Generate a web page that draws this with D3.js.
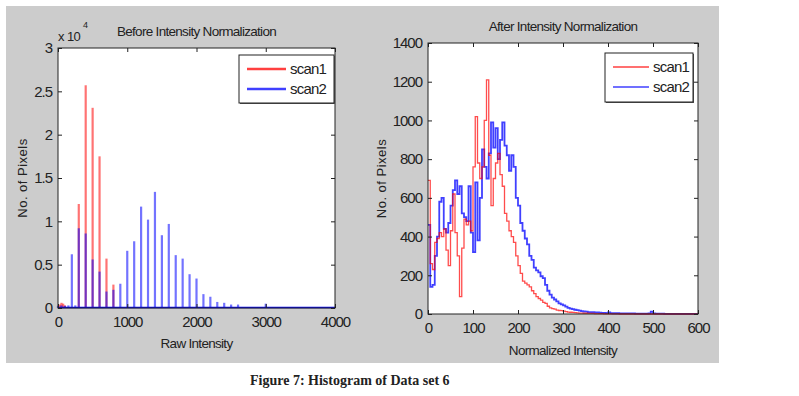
<!DOCTYPE html>
<html><head><meta charset="utf-8">
<script src="https://cdn.jsdelivr.net/npm/d3@7"></script>
<style>
body{margin:0;background:#fff}
svg text{font-family:"Liberation Sans",Arial,sans-serif;fill:#222}
</style>
</head><body><svg id="c" width="799" height="396"></svg>
<script>
// ---- Left panel: raw intensity histogram (counts) ----
const rawBins1 = [25, 50, 75, 100, 300, 400, 500, 600, 700, 800];
const rawCounts1 = [400, 600, 500, 300, 12000, 25700, 23100, 17500, 5700, 2700];
const rawBins2 = [0, 50, 100, 150, 200, 250, 300, 400, 500, 600, 700, 800, 900, 1000, 1100, 1200, 1300, 1400, 1500, 1600, 1700, 1800, 1900, 2000, 2100, 2200, 2300, 2400, 2500, 2600, 3000];
const rawCounts2 = [250, 300, 250, 300, 6200, 300, 9200, 8600, 5600, 4200, 1900, 2100, 2800, 6600, 7700, 11700, 10200, 13400, 8400, 9700, 6100, 5700, 3900, 3400, 1600, 1300, 700, 600, 400, 400, 500];
const rawXTicks = [0, 1000, 2000, 3000, 4000];
const rawYTicks = [0, 5000, 10000, 15000, 20000, 25000, 30000];

// ---- Right panel: normalized intensity histogram ----
const normBins = [0,5,10,15,20,25,30,35,40,45,50,55,60,65,70,75,80,85,90,95,100,105,110,115,120,125,130,135,140,145,150,155,160,165,170,175,180,185,190,195,200,205,210,215,220,225,230,235,240,245,250,255,260,265,270,275,280,285,290,295,300,305,310,315,320,325,330,335,340,345,350,355,360,365,370,375,380,385,390,395,400,405,410,415,420,425,430,435,440,445,450,455,460,465,470,475,480,485,490,495,500,505,510,515,520,525,530,535,540,545,550,555,560,565,570,575,580,585,590,595,600];
const normCounts1 = [690,260,230,370,390,420,400,440,330,250,430,620,420,300,90,340,490,460,480,430,760,1020,780,700,760,1000,1210,820,560,700,780,830,720,660,520,480,430,400,370,300,250,210,170,160,150,140,120,105,90,80,72,60,55,40,32,28,25,20,18,17,15,12,10,9,8,7,6,5,5,4,4,3,3,3,2,2,2,2,1,1,1,1,1,1,1,0,0,0,0,0,0,0,0,0,0,0,0,0,0,0,0,0,0,0,0,0,0,0,0,0,0,0,0,0,0,0,0,0,0,0,0];
const normCounts2 = [460,140,150,300,400,580,600,440,420,470,560,640,690,620,660,520,500,480,660,420,320,680,380,600,850,760,700,830,990,860,960,800,900,990,870,820,740,820,760,600,560,470,430,390,360,300,280,240,225,215,195,185,150,120,100,85,75,65,55,50,45,38,32,28,25,22,20,17,15,13,12,10,10,9,8,8,7,6,6,5,8,5,4,4,4,3,3,3,3,3,3,3,2,2,2,2,2,2,3,12,3,2,2,2,2,1,1,1,1,1,1,1,1,1,1,1,1,1,1,1,1];
const normXTicks = [0, 100, 200, 300, 400, 500, 600];
const normYTicks = [0, 200, 400, 600, 800, 1000, 1200, 1400];

const seriesNames = ["scan1", "scan2"];
const seriesColors = ["#ff0000", "#0000ff"];

const svg = d3.select("#c");
svg.append("rect").attr("x",6).attr("y",6).attr("width",713).attr("height",357).attr("fill","#cccccc");

function panel(opt){
  const g = svg.append("g");
  const x = d3.scaleLinear().domain(opt.xd).range(opt.xr);
  const y = d3.scaleLinear().domain(opt.yd).range(opt.yr);
  g.append("rect").attr("x",opt.xr[0]).attr("y",opt.yr[1]).attr("width",opt.xr[1]-opt.xr[0]).attr("height",opt.yr[0]-opt.yr[1]).attr("fill","#fff");
  opt.draw(g,x,y);
  const ab = g.append("g").attr("transform",`translate(0,${opt.yr[0]})`).call(d3.axisBottom(x).tickValues(opt.xt).tickSizeInner(-4).tickSizeOuter(0).tickPadding(8).tickFormat(d3.format("d")));
  const at = g.append("g").attr("transform",`translate(0,${opt.yr[1]})`).call(d3.axisTop(x).tickValues(opt.xt).tickSizeInner(-4).tickSizeOuter(0).tickFormat(""));
  const al = g.append("g").attr("transform",`translate(${opt.xr[0]},0)`).call(d3.axisLeft(y).tickValues(opt.yt).tickSizeInner(-4).tickSizeOuter(0).tickPadding(6).tickFormat(opt.yf));
  const ar = g.append("g").attr("transform",`translate(${opt.xr[1]},0)`).call(d3.axisRight(y).tickValues(opt.yt).tickSizeInner(-4).tickSizeOuter(0).tickFormat(""));
  [ab,at,al,ar].forEach(a=>{a.select(".domain").remove();a.selectAll("line").attr("stroke","#222");
    a.selectAll("text").style("font-size","15px").style("letter-spacing","-1px").style("font-family","'Liberation Sans',Arial,sans-serif").attr("fill","#222");});
  ab.selectAll("text").attr("dy","0.75em");
  g.append("rect").attr("x",opt.xr[0]).attr("y",opt.yr[1]).attr("width",opt.xr[1]-opt.xr[0]).attr("height",opt.yr[0]-opt.yr[1]).attr("fill","none").attr("stroke","#222").attr("stroke-width",1);
  const cx = (opt.xr[0]+opt.xr[1])/2, cy=(opt.yr[0]+opt.yr[1])/2;
  g.append("text").attr("x",cx).attr("y",opt.titleY).attr("text-anchor","middle").style("font-size","13.5px").style("letter-spacing","-0.7px").text(opt.title);
  g.append("text").attr("x",cx).attr("y",opt.xlabY).attr("text-anchor","middle").style("font-size","13.5px").style("letter-spacing","-0.7px").text(opt.xlab);
  g.append("text").attr("transform",`translate(${opt.ylabX},${cy}) rotate(-90)`).attr("text-anchor","middle")
    .style("font-size","13px").style("letter-spacing","0.5px").text("No. of Pixels");
  // legend
  const L = opt.leg;
  g.append("rect").attr("x",L.x+1).attr("y",L.y+1).attr("width",L.w).attr("height",L.h).attr("fill","#555");
  g.append("rect").attr("x",L.x).attr("y",L.y).attr("width",L.w).attr("height",L.h).attr("fill","#fff").attr("stroke","#222");
  seriesNames.forEach((n,i)=>{
    const ly = L.y + 14 + i*20;
    g.append("line").attr("x1",L.x+8).attr("x2",L.x+L.lw).attr("y1",ly).attr("y2",ly).attr("stroke",seriesColors[i]).attr("stroke-width",opt.legSW).attr("stroke-opacity",0.75);
    g.append("text").attr("x",L.x+L.lw+4).attr("y",ly+5).style("font-size","15px").style("letter-spacing","-0.8px").text(n);
  });
  return {g,x,y};
}

// left
panel({
  xd:[0,4000], xr:[58,335], yd:[0,30000], yr:[308,48], xt:rawXTicks, yt:rawYTicks,
  yf:d=>d3.format("~g")(d/1e4), title:"Before Intensity Normalization", titleY:36, xlab:"Raw Intensity", xlabY:348, ylabX:27,
  leg:{x:239,y:55,w:95,h:48,lw:47}, legSW:2.5,
  draw:(g,x,y)=>{
    g.selectAll(".s1").data(rawBins1.map((b,i)=>[b,rawCounts1[i]])).join("line")
      .attr("x1",d=>x(d[0])).attr("x2",d=>x(d[0])).attr("y1",y(0)).attr("y2",d=>y(d[1]))
      .attr("stroke",seriesColors[0]).attr("stroke-width",2.2).attr("stroke-opacity",0.55);
    g.selectAll(".s2").data(rawBins2.map((b,i)=>[b,rawCounts2[i]])).join("line")
      .attr("x1",d=>x(d[0])).attr("x2",d=>x(d[0])).attr("y1",y(0)).attr("y2",d=>y(d[1]))
      .attr("stroke",seriesColors[1]).attr("stroke-width",2.2).attr("stroke-opacity",0.55);
    g.append("line").attr("x1",x(0)).attr("x2",x(4000)).attr("y1",y(0)-0.5).attr("y2",y(0)-0.5).attr("stroke",seriesColors[1]).attr("stroke-width",1.5);
  }
});
svg.append("text").attr("x",58).attr("y",41).style("font-size","13px").style("letter-spacing","-0.6px").text("x 10");
svg.append("text").attr("x",83).attr("y",28).style("font-size","9px").text("4");

// right
panel({
  xd:[0,600], xr:[428,698], yd:[0,1400], yr:[314,43], xt:normXTicks, yt:normYTicks,
  yf:d=>d, title:"After Intensity Normalization", titleY:31, xlab:"Normalized Intensity", xlabY:355, ylabX:386,
  leg:{x:605,y:53,w:88,h:49,lw:44}, legSW:1.5,
  draw:(g,x,y)=>{
    const mk = arr => d3.line().curve(d3.curveStepAfter).x((d,i)=>x(normBins[i])).y(d=>y(d))(arr);
    g.append("path").attr("d",mk(normCounts2)).attr("fill","none").attr("stroke",seriesColors[1]).attr("stroke-width",1.8).attr("stroke-opacity",0.75);
    g.append("path").attr("d",mk(normCounts1)).attr("fill","none").attr("stroke",seriesColors[0]).attr("stroke-width",1.3).attr("stroke-opacity",0.7);
  }
});

svg.append("text").attr("x",250).attr("y",385).style("font-family","'Liberation Serif','Times New Roman',serif").style("font-weight","bold").style("font-size","14px").attr("fill","#000").text("Figure 7: Histogram of Data set 6");
</script>
</body></html>
